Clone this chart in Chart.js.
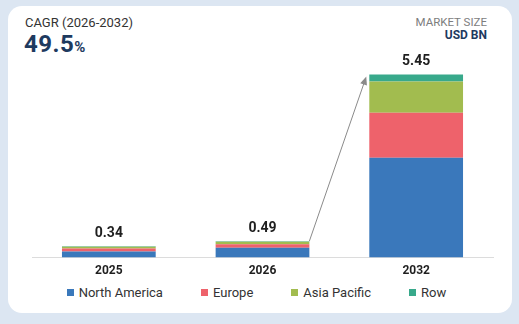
<!DOCTYPE html>
<html>
<head>
<meta charset="utf-8">
<script src="https://cdn.jsdelivr.net/npm/chart.js@4/dist/chart.umd.min.js"></script>
<style>
  html, body { margin: 0; padding: 0; }
  body {
    width: 519px; height: 324px; background: #dce6f2;
    font-family: Roboto, "Noto Sans", sans-serif; position: relative; overflow: hidden;
  }
  .card {
    position: absolute; left: 8px; top: 6px; width: 504px; height: 307px;
    background: #fff; border-radius: 14px;
  }
  .cagr-label { position: absolute; left: 25px; top: 15px; font-size: 13px; color: #333; }
  .cagr-value { position: absolute; left: 24px; top: 30px; font-size: 24px; font-weight: 700; color: #1e3a5f; letter-spacing: 0.5px; }
  .cagr-value small { font-size: 15px; font-weight: 700; letter-spacing: 0; }
  .unit { position: absolute; right: 32px; top: 16px; text-align: right; font-size: 11.5px; line-height: 13px; }
  .unit .t1 { color: #7d7d7d; }
  .unit .t2 { color: #1e3a5f; font-weight: 700; font-size: 12px; }
  #wrap { position: absolute; left: 0; top: 40px; width: 519px; height: 245px; }
  #legend {
    position: absolute; left: 0; top: 285px; width: 513px; padding-right: 6px; display: flex; justify-content: center;
    gap: 38px; font-size: 13px; color: #333;
  }
  #legend span { display: inline-flex; align-items: center; }
  #legend i { display: inline-block; width: 7px; height: 7px; margin-right: 5px; }
</style>
</head>
<body>
<div class="card"></div>
<div class="cagr-label">CAGR (2026-2032)</div>
<div class="cagr-value">49.5<small>%</small></div>
<div class="unit"><div class="t1">MARKET SIZE</div><div class="t2">USD BN</div></div>
<div id="wrap"><canvas id="chart"></canvas></div>
<div id="legend"></div>
<script>
// market size by region, USD BN
const years = ['2025', '2026', '2032'];
const northAmerica = [0.18, 0.29, 2.97];
const europe = [0.09, 0.11, 1.34];
const asiaPacific = [0.05, 0.07, 0.93];
const row = [0.02, 0.02, 0.21];
const totals = ['0.34', '0.49', '5.45'];

const regions = [
  { label: 'North America', data: northAmerica, color: '#3a78bb' },
  { label: 'Europe', data: europe, color: '#ee626b' },
  { label: 'Asia Pacific', data: asiaPacific, color: '#a2bc4f' },
  { label: 'Row', data: row, color: '#38a98b' }
];

// totals above each stack + growth arrow from 2026 to 2032
const overlay = {
  id: 'overlay',
  afterDatasetsDraw(chart) {
    const ctx = chart.ctx;
    const top = chart.getDatasetMeta(chart.data.datasets.length - 1).data;
    ctx.save();
    ctx.font = 'bold 14px Roboto, sans-serif';
    ctx.fillStyle = '#1f1f1f';
    ctx.textAlign = 'center';
    ctx.textBaseline = 'middle';
    top.forEach((bar, i) => {
      ctx.fillText(totals[i], bar.x, bar.y - 13);
    });

    const a = top[1], b = top[2];
    const x1 = a.x + a.width / 2, y1 = a.y;
    const x2 = b.x - b.width / 2 - 3, y2 = b.y + 2;
    const ang = Math.atan2(y2 - y1, x2 - x1);
    ctx.strokeStyle = '#8a8a8a';
    ctx.fillStyle = '#8a8a8a';
    ctx.lineWidth = 1;
    ctx.beginPath();
    ctx.moveTo(x1, y1);
    ctx.lineTo(x2 - 6 * Math.cos(ang), y2 - 6 * Math.sin(ang));
    ctx.stroke();
    ctx.beginPath();
    ctx.moveTo(x2, y2);
    ctx.lineTo(x2 - 9 * Math.cos(ang - 0.4), y2 - 9 * Math.sin(ang - 0.4));
    ctx.lineTo(x2 - 9 * Math.cos(ang + 0.4), y2 - 9 * Math.sin(ang + 0.4));
    ctx.closePath();
    ctx.fill();
    ctx.restore();
  }
};

const chart = new Chart(document.getElementById('chart'), {
  type: 'bar',
  data: {
    labels: years,
    datasets: regions.map(r => ({
      label: r.label,
      data: r.data,
      backgroundColor: r.color,
      borderWidth: 0,
      categoryPercentage: 1,
      barPercentage: 0.61
    }))
  },
  options: {
    responsive: true,
    maintainAspectRatio: false,
    animation: false,
    layout: { padding: { left: 32, right: 26, top: 16, bottom: 1 } },
    plugins: { legend: { display: false }, tooltip: { enabled: false } },
    scales: {
      x: {
        stacked: true,
        grid: { display: false, drawTicks: false },
        border: { display: true, color: '#dcdcdc', width: 1 },
        ticks: { padding: 6, color: '#1f1f1f', font: { family: 'Roboto', size: 12, weight: 'bold' } }
      },
      y: {
        stacked: true,
        display: false,
        min: 0,
        max: 6
      }
    }
  },
  plugins: [overlay]
});

// legend row
const legend = document.getElementById('legend');
chart.data.datasets.forEach(ds => {
  const item = document.createElement('span');
  item.innerHTML = '<i style="background:' + ds.backgroundColor + '"></i>' + ds.label;
  legend.appendChild(item);
});
</script>
</body>
</html>
